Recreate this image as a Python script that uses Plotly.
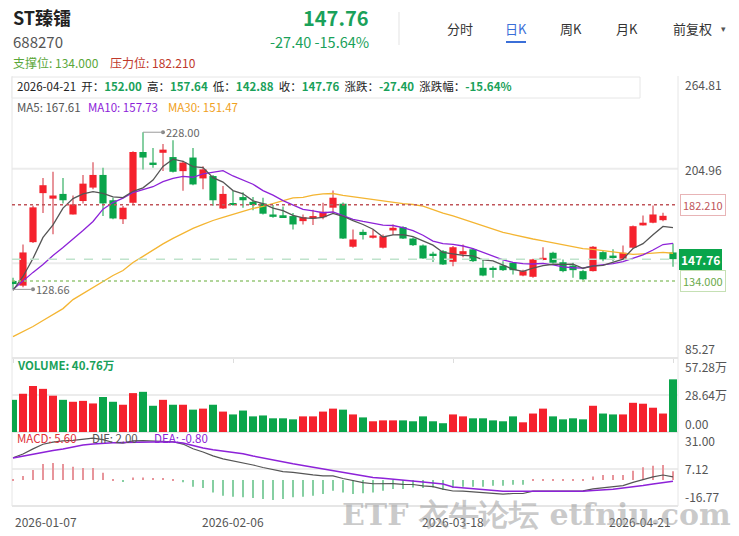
import plotly.graph_objects as go
import pandas as pd

# ---------------- data ----------------
opens = [134, 131, 158.5, 189.5, 186, 189, 176, 184.5, 193, 201,
         185, 173, 183.4, 215.5, 208.8, 215, 212.3, 203.4, 212, 198.8,
         200.3, 179.8, 183.2, 187, 184, 183, 176, 175.5, 175, 171.8,
         173.5, 174.3, 180.3, 182.8, 155.6, 165, 161.3, 155, 165.9, 168,
         160.8, 156.4, 151.2, 152.8, 146.1, 150.7, 154, 142.3, 142.3, 143.7,
         145.5, 137.4, 136.6, 147.6, 151.8, 145.8, 143.7, 140.2, 140.2, 152.2,
         150, 148, 155, 169.1, 170.8, 172.4, 152.00]
closes = [132, 152, 180.5, 194.5, 188, 185, 182.4, 195.5, 201, 183,
          173.5, 180.3, 215.5, 212, 207.3, 217, 203, 208.8, 195, 204.5,
          185, 189, 182, 185, 182, 176.5, 174.5, 174.3, 169.7, 174.3,
          175, 177.7, 186.6, 160.8, 160.2, 163, 162.7, 162.3, 167.6, 160.8,
          156.6, 148.2, 150, 144.4, 155.3, 152.8, 146.5, 137.4, 141.3, 140.8,
          140.8, 140.2, 147.6, 148.6, 145.5, 140.2, 140.8, 135, 155.6, 147.6,
          148.8, 151.8, 168.6, 170.8, 176, 175.16, 147.76]
highs = [136, 157, 181.5, 199, 203, 199, 188, 201, 209, 205.5,
         186.5, 181.3, 216, 228.00, 218, 220.5, 223, 210, 218, 206.5,
         201, 194, 190.8, 190, 187, 186.6, 182, 181, 177, 176,
         179, 183.4, 191.2, 183.5, 166.5, 166.5, 166.5, 163.4, 169.7, 168.6,
         161.5, 157, 152.5, 153.5, 156, 157, 154.5, 147.6, 143.3, 146.5,
         146, 141, 148, 155.3, 152.5, 147.6, 145.5, 141, 156, 153,
         154, 156.4, 169, 175.4, 181.7, 177.1, 157.64]
lows = [128.66, 130, 158, 177, 163.5, 183, 176, 183, 192, 175,
        173, 170, 182, 204.5, 205.5, 203.5, 202.5, 191, 194.5, 192,
        181.5, 179.5, 181.5, 180.3, 178.6, 176, 174, 174, 166.5, 169.7,
        169.3, 173, 177, 160.5, 155, 160.2, 160.8, 154.5, 163, 160.5,
        156, 148, 146, 144, 143.3, 149, 146, 137, 136, 140.3,
        138, 137, 136, 147, 145, 139.5, 136, 134.6, 140, 146.5,
        146.5, 147.5, 154.5, 169, 170.5, 171.8, 142.88]
volumes = [24.9, 29.6, 35.6, 33.4, 28.1, 24.9, 23.4, 24.1, 22.1, 27.1,
           23.4, 21.1, 30.1, 31.1, 20.3, 24.9, 21.1, 21.1, 17.3, 18.1,
           21.1, 15.8, 13.6, 16.6, 12.1, 12.8, 10.6, 10.6, 9.8, 12.1,
           12.1, 15.8, 18.1, 17.3, 13.6, 11.3, 8.3, 9.0, 9.0, 9.0,
           8.3, 12.1, 8.3, 6.8, 13.6, 12.1, 10.6, 10.6, 9.0, 8.3,
           12.1, 7.5, 14.3, 18.1, 12.1, 9.8, 10.6, 9.8, 20.3, 14.3,
           13.6, 13.6, 22.6, 21.9, 18.8, 14.3, 40.76]
# moving averages before enough in-window history
ma5_head = [128, 136.8, 148.2, 161.5]
ma10_head = [128.6, 134.3, 139.4, 144.4, 150.1, 155.1, 160.2, 165.9, 171.6]
ma30_head = [98.8, 102, 105.2, 109, 112.7, 116.5, 122.2, 126, 130.2, 133.9,
             137.4, 140.6, 145.6, 149.5, 153.6, 157.4, 160.9, 164, 167.2, 169.7,
             172.2, 174.1, 176, 178, 179.8, 181.1, 183, 184.6, 186.5]
macd_hist = [0.3, 2.6, 6.5, 10.3, 11.0, 10.3, 8.6, 7.7, 7.7, 4.7,
             0.4, -0.8, 1.7, 1.7, 1.3, 1.3, 0.3, -1.5, -4.3, -5.2,
             -8.0, -10.1, -10.8, -11.2, -11.6, -12.3, -12.9, -12.3, -11.2, -10.8,
             -10.1, -9.0, -6.9, -8.0, -9.0, -8.6, -8.0, -6.9, -5.8, -5.8,
             -4.8, -5.2, -4.8, -6.5, -5.2, -4.3, -4.3, -4.3, -3.7, -3.7,
             -3.0, -3.0, 0.3, 0.3, 0.4, 0.3, 0.4, 0.5, 2.2, 3.2,
             3.2, 3.2, 6.0, 8.2, 9.2, 9.7, 5.60]
dea = [14.2, 15.5, 16.8, 17.9, 19.0, 20.1, 21.3, 22.6, 23.2, 23.7,
       24.0, 24.2, 24.4, 24.5, 24.5, 24.5, 24.5, 23.9, 22.3, 20.7,
       19.6, 18.7, 17.8, 16.9, 15.5, 14.2, 12.9, 11.5, 10.5, 9.4,
       8.3, 7.2, 6.1, 5.0, 3.9, 2.6, 1.6, 1.1, 0.6, 0.1,
       -0.5, -1.2, -1.9, -2.6, -4.5, -5.0, -5.5, -6.1, -6.8, -7.2,
       -7.2, -7.2, -7.3, -7.3, -7.3, -7.2, -7.2, -7.2, -6.8, -6.5,
       -6.0, -5.2, -4.5, -3.6, -2.6, -1.6, -0.80]
dif = [14.4, 16.8, 20.1, 23.1, 24.5, 25.3, 25.6, 26.5, 27.1, 26.1,
       24.2, 23.8, 25.3, 25.4, 25.2, 25.2, 24.7, 23.2, 20.2, 18.1,
       15.6, 13.7, 12.4, 11.3, 9.7, 8.1, 6.5, 5.4, 4.9, 4.0,
       3.3, 2.7, 2.7, 1.0, -0.6, -1.7, -2.4, -2.4, -2.3, -2.8,
       -2.9, -3.8, -4.3, -5.9, -7.1, -7.2, -7.7, -8.3, -8.7, -9.1,
       -8.7, -8.7, -7.15, -7.15, -7.1, -7.05, -7.0, -6.95, -5.7, -4.9,
       -4.4, -3.6, -1.5, 0.5, 2.0, 3.25, 2.00]
date_labels = ["2026-01-07", "2026-02-06", "2026-03-18", "2026-04-21"]
date_idx = [0, 22, 44, 66]
price_ticks = [264.81, 204.96, 145.115, 85.27]
vol_ticks = [57.28, 28.64, 0.00]
macd_ticks = [31.00, 7.12, -16.77]
support, resistance = 134.000, 182.210
last_close, change, change_pct = 147.76, -27.40, -15.64
max_high, min_low = 228.00, 128.66
max_idx, min_idx = 13, 0

# ---------------- styling ----------------
W, H = 739, 536
L, R, T, B = 12, 678, 74, 506
RED, GREEN = "#f5222d", "#0aa54b"
RED_W, GREEN_W = "#e8959b", "#86cfa2"
FONT = "Noto Sans CJK SC, Noto Sans, sans-serif"

n = len(closes)
x = list(range(n))
s = pd.Series(closes)
ma5 = ma5_head + s.rolling(5).mean().tolist()[4:]
ma10 = ma10_head + s.rolling(10).mean().tolist()[9:]
ma30 = ma30_head + s.rolling(30).mean().tolist()[29:]

up = [c >= o for o, c in zip(opens, closes)]
body_col = [RED if u else GREEN for u in up]
wick_col = [RED_W if u else GREEN_W for u in up]
body_base = [min(o, c) for o, c in zip(opens, closes)]
body_h = [max(abs(c - o), 0.9) for o, c in zip(opens, closes)]

fig = go.Figure()
# wicks
fig.add_trace(go.Bar(x=x, base=lows, y=[h - l for h, l in zip(highs, lows)],
                     width=0.13, marker=dict(color=wick_col, line_width=0),
                     yaxis="y", hoverinfo="skip"))
# bodies
fig.add_trace(go.Bar(x=x, base=body_base, y=body_h, width=0.72,
                     marker=dict(color=body_col, line_width=0), yaxis="y", hoverinfo="skip"))
for ma, col in [(ma30, "#f4b532"), (ma10, "#8d22d8"), (ma5, "#555555")]:
    fig.add_trace(go.Scatter(x=x, y=ma, mode="lines", line=dict(color=col, width=1.3),
                             yaxis="y", hoverinfo="skip"))
# volume
fig.add_trace(go.Bar(x=x, y=volumes, width=0.8, marker=dict(color=body_col, line_width=0),
                     yaxis="y2", hoverinfo="skip"))
# macd
fig.add_trace(go.Bar(x=x, y=macd_hist, width=0.2,
                     marker=dict(color=[RED_W if v >= 0 else GREEN_W for v in macd_hist], line_width=0),
                     yaxis="y3", hoverinfo="skip"))
fig.add_trace(go.Scatter(x=x, y=dif, mode="lines", line=dict(color="#555555", width=1.2),
                         yaxis="y3", hoverinfo="skip"))
fig.add_trace(go.Scatter(x=x, y=dea, mode="lines", line=dict(color="#8d22d8", width=1.5),
                         yaxis="y3", hoverinfo="skip"))


def px(xp):
    return (xp - L) / (R - L)


def py(yp):
    return (B - yp) / (B - T)


main_dom = [py(358), 1.0]
vol_dom = [py(432), py(358)]
macd_dom = [0.0, py(432)]

fig.update_layout(
    width=W, height=H, margin=dict(l=L, r=W - R, t=T, b=H - B),
    paper_bgcolor="white", plot_bgcolor="white", showlegend=False, barmode="overlay",
    font=dict(family=FONT, size=12, color="#333"),
    xaxis=dict(range=[-0.1, 66.5], showgrid=False, zeroline=False, tickvals=date_idx,
               ticktext=["" for _ in date_idx], ticks="outside", ticklen=4, tickcolor="#dddddd",
               showline=False, fixedrange=True),
    yaxis=dict(domain=main_dom, range=[price_ticks[-1], price_ticks[0]], showgrid=False,
               zeroline=False, showticklabels=False),
    yaxis2=dict(domain=vol_dom, range=[vol_ticks[-1], vol_ticks[0]], showgrid=False,
                zeroline=False, showticklabels=False, anchor="x"),
    yaxis3=dict(domain=macd_dom, range=[macd_ticks[-1], macd_ticks[0]], showgrid=False,
                zeroline=False, showticklabels=False, anchor="x"),
)

shapes = []
GRID = "#ececec"
# gridlines (inner)
for v in price_ticks[1:3]:
    shapes.append(dict(type="line", xref="paper", x0=0, x1=1, yref="y", y0=v, y1=v,
                       line=dict(color=GRID, width=2), layer="below"))
shapes.append(dict(type="line", xref="paper", x0=0, x1=1, yref="y2", y0=vol_ticks[1], y1=vol_ticks[1],
                   line=dict(color=GRID, width=2), layer="below"))
shapes.append(dict(type="line", xref="paper", x0=0, x1=1, yref="y3", y0=macd_ticks[1], y1=macd_ticks[1],
                   line=dict(color=GRID, width=2), layer="below"))
# panel separators
for yy in [358, 432, 506]:
    shapes.append(dict(type="line", xref="paper", x0=0, x1=1, yref="paper", y0=py(yy), y1=py(yy),
                       line=dict(color="#e6e6e6", width=2), layer="below"))
# vertical borders
for xx in [0, 1]:
    shapes.append(dict(type="line", xref="paper", x0=xx, x1=xx, yref="paper", y0=0, y1=py(T + 2),
                       line=dict(color="#e6e6e6", width=1), layer="below"))
# support / resistance / last price lines
shapes.append(dict(type="line", xref="paper", x0=0, x1=1, yref="y", y0=resistance, y1=resistance,
                   line=dict(color="#c0555a", width=1.5, dash="dot")))
shapes.append(dict(type="line", xref="paper", x0=0, x1=1, yref="y", y0=support, y1=support,
                   line=dict(color="#98c87a", width=1.5, dash="dot")))
shapes.append(dict(type="line", xref="paper", x0=0, x1=1, yref="y", y0=last_close, y1=last_close,
                   line=dict(color="#bfe3cc", width=1.5, dash="dash")))
# high / low marker lines
shapes.append(dict(type="line", xref="x", x0=max_idx, x1=max_idx + 2.0, yref="y", y0=max_high, y1=max_high,
                   line=dict(color="#9a9a9a", width=1)))
shapes.append(dict(type="line", xref="x", x0=min_idx, x1=min_idx + 2.0, yref="y", y0=min_low, y1=min_low,
                   line=dict(color="#9a9a9a", width=1)))
# tab underline
shapes.append(dict(type="rect", xref="paper", yref="paper", x0=px(506), x1=px(526), y0=py(43), y1=py(41),
                   fillcolor="#3b6fd8", line_width=0))
# header separator
shapes.append(dict(type="line", xref="paper", yref="paper", x0=px(399), x1=px(399), y0=py(12), y1=py(45),
                   line=dict(color="#e3e3e3", width=1)))
# info box border
shapes.append(dict(type="rect", xref="paper", yref="paper", x0=px(12), x1=px(640), y0=py(98), y1=py(77),
                   line=dict(color="#e6e6e6", width=1), fillcolor="rgba(255,255,255,0.85)"))
fig.update_layout(shapes=shapes)

ann = []


def text(xx, yy, t, size=12, color="#333", anchor="left", bold=False, yanchor="middle", xref="paper", yref="paper", **kw):
    if xref == "paper":
        xx = px(xx)
    if yref == "paper":
        yy = py(yy)
    ann.append(dict(x=xx, y=yy, xref=xref, yref=yref, text=("<b>%s</b>" % t) if bold else t,
                    showarrow=False, xanchor=anchor, yanchor=yanchor,
                    font=dict(size=size, color=color, family=FONT), **kw))


# markers dots
fig.add_trace(go.Scatter(x=[max_idx + 2.0, min_idx + 2.0], y=[max_high, min_low], mode="markers",
                         marker=dict(color="#888", size=4), yaxis="y", hoverinfo="skip"))
text(max_idx + 2.1, max_high, "%.2f" % max_high, 11, "#666", xref="x", yref="y")
text(min_idx + 2.1, min_low, "%.2f" % min_low, 11, "#666", xref="x", yref="y")

# header
text(11, 17, "ST臻镭", 18, "#222", bold=True)
text(11, 41, "688270", 15, "#555")
text(371, 17, "%.2f" % last_close, 20, "#1aa15a", anchor="right", bold=True)
text(371, 41, "%.2f %.2f%%" % (change, change_pct), 14.5, "#1aa15a", anchor="right")
for xx, t, c in [(460, "分时", "#333"), (516, "日K", "#3b6fd8"), (571, "周K", "#333"), (627, "月K", "#333"),
                 (692, "前复权", "#333")]:
    text(xx, 28, t, 13, c, anchor="center")
text(723, 28, "▾", 9, "#555", anchor="center")
text(11, 63, "支撑位: %.3f" % support, 12, "#5aa73a")
text(108, 63, "压力位: %.3f" % resistance, 12, "#c0392b")
G = "#1aa15a"
info = ("2026-04-21  开：<span style='color:%s'><b>152.00</b></span>  高：<span style='color:%s'><b>157.64</b></span>"
        "  低：<span style='color:%s'><b>142.88</b></span>  收：<span style='color:%s'><b>147.76</b></span>"
        "  涨跌：<span style='color:%s'><b>-27.40</b></span>  涨跌幅：<span style='color:%s'><b>-15.64%%</b></span>") % (G, G, G, G, G, G)
text(15, 86, info, 11.5, "#222")
text(15, 107, "MA5: %.2f" % 167.61, 11.5, "#555")
text(86, 107, "MA10: %.2f" % 157.73, 11.5, "#8d22d8")
text(166, 107, "MA30: %.2f" % 151.47, 11.5, "#f0a020")
text(15, 365, "VOLUME: 40.76万", 11.5, "#1aa15a", bold=True)
text(15, 438, "MACD: 5.60", 11.5, "#e0303a")
text(90, 438, "DIF: 2.00", 11.5, "#555")
text(152, 438, "DEA: -0.80", 11.5, "#8d22d8")

# right axis labels
AX = "#555"
text(683, 85, "%.2f" % price_ticks[0], 12, AX)
text(683, 169, "%.2f" % price_ticks[1], 12, AX)
text(683, 348, "%.2f" % price_ticks[3], 12, AX)
text(683, 366, "%.2f万" % vol_ticks[0], 12, AX)
text(683, 394, "%.2f万" % vol_ticks[1], 12, AX)
text(683, 423, "%.2f" % vol_ticks[2], 12, AX)
text(683, 440, "%.2f" % macd_ticks[0], 12, AX)
text(683, 468, "%.2f" % macd_ticks[1], 12, AX)
text(683, 496, "%.2f" % macd_ticks[2], 12, AX)
# price tags
ann.append(dict(x=1, y=resistance, xref="paper", yref="y", xanchor="left", xshift=2, showarrow=False,
                text="%.3f" % resistance, font=dict(size=11, color="#c0555a", family=FONT),
                bordercolor="#e8b4b6", borderwidth=1, borderpad=2, bgcolor="white"))
ann.append(dict(x=1, y=support, xref="paper", yref="y", xanchor="left", xshift=2, showarrow=False,
                text="%.3f" % support, font=dict(size=11, color="#6aaa4a", family=FONT),
                bordercolor="#c5e0b4", borderwidth=1, borderpad=2, bgcolor="white"))
ann.append(dict(x=1, y=last_close, xref="paper", yref="y", xanchor="left", xshift=1, showarrow=False,
                text="<b>%.2f</b>" % last_close, font=dict(size=12, color="white", family=FONT),
                borderwidth=0, borderpad=2, bgcolor="#0aa54b"))
# date labels
for i, (di, dl) in enumerate(zip(date_idx, date_labels)):
    anchor = "left" if i == 0 else ("right" if i == len(date_idx) - 1 else "center")
    ann.append(dict(x=di, y=py(521), xref="x", yref="paper", xanchor=anchor, yanchor="middle",
                    showarrow=False, text=dl, font=dict(size=12, color="#555", family=FONT)))
# watermark
ann.append(dict(x=px(536), y=py(514), xref="paper", yref="paper", showarrow=False,
                xanchor="center", yanchor="middle",
                text="<b>ETF 衣牛论坛 etfniu.com</b>",
                font=dict(size=30, color="rgba(150,150,150,0.5)", family="DejaVu Serif, serif")))
fig.update_layout(annotations=ann)

fig.write_html("out.html")
